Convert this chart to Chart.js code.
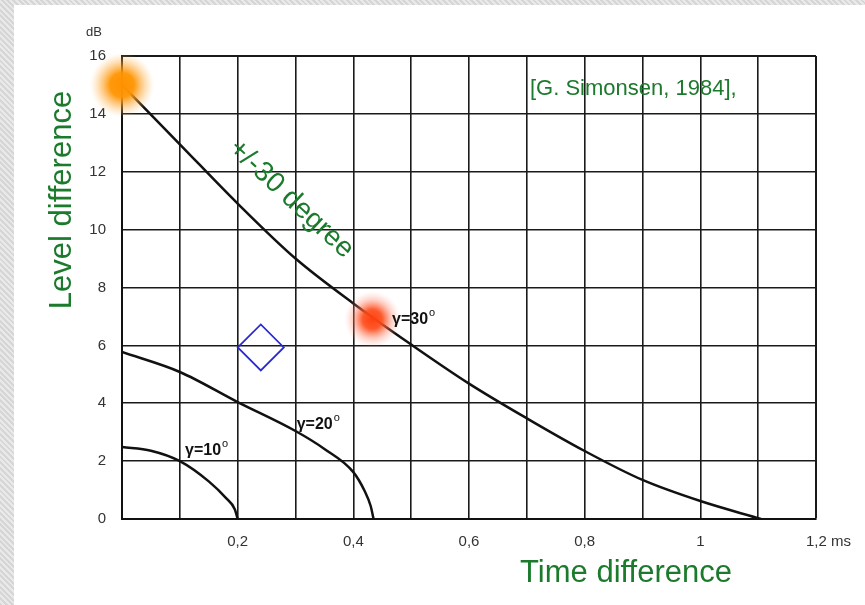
<!DOCTYPE html>
<html>
<head>
  <title>Level difference vs time difference</title>
  <style>
    html, body {
      margin: 0;
      padding: 0;
      overflow: hidden;
    }
    body {
      width: 865px;
      height: 605px;
      position: relative;
      background: repeating-linear-gradient(45deg, #d6d6d6 0 2px, #e9e9e9 2px 4px);
    }
    .panel {
      position: absolute;
      left: 14px;
      top: 5px;
      right: 0;
      bottom: 0;
      background: #fff;
    }
    #chart {
      position: absolute;
      left: 0;
      top: 0;
    }
  </style>
</head>
<body>
  <div class="panel"></div>
  <canvas id="chart" width="865" height="605"></canvas>

  <script src="https://cdn.jsdelivr.net/npm/chart.js"></script>
  <script>
    // curves (time in ms, level in dB)
    const t30 = [0, 0.1, 0.2, 0.3, 0.4, 0.5, 0.6, 0.7, 0.8, 0.9, 1.0, 1.105];
    const lev30 = [15.0, 12.95, 10.9, 9.0, 7.45, 6.03, 4.68, 3.48, 2.35, 1.35, 0.62, 0];

    const t20 = [0, 0.1, 0.2, 0.3, 0.35, 0.4, 0.42, 0.43, 0.435];
    const lev20 = [5.77, 5.08, 4.04, 3.04, 2.42, 1.62, 0.95, 0.45, 0];

    const t10 = [0, 0.05, 0.1, 0.15, 0.18, 0.195, 0.2];
    const lev10 = [2.49, 2.36, 2.0, 1.3, 0.72, 0.34, 0];

    // markers
    const orangeX = [0];
    const orangeY = [15];
    const redX = [0.433];
    const redY = [6.9];
    const diamondX = [0.24];
    const diamondY = [5.93];

    const FONT = "'Liberation Sans', Arial, sans-serif";
    const GREEN = '#1b7a2c';

    const pts = (xs, ys) => xs.map((v, i) => ({ x: v, y: ys[i] }));

    function glow(size, stops) {
      const c = document.createElement('canvas');
      c.width = c.height = size;
      const g = c.getContext('2d');
      const r = size / 2;
      const grd = g.createRadialGradient(r, r, 0, r, r, r);
      stops.forEach(s => grd.addColorStop(s[0], s[1]));
      g.fillStyle = grd;
      g.fillRect(0, 0, size, size);
      return c;
    }

    const orangeGlow = glow(64, [
      [0, 'rgba(255,145,0,1)'],
      [0.38, 'rgba(255,150,5,0.97)'],
      [0.7, 'rgba(255,170,60,0.45)'],
      [1, 'rgba(255,200,120,0)']
    ]);
    const redGlow = glow(56, [
      [0, 'rgba(255,65,15,1)'],
      [0.35, 'rgba(255,75,25,0.92)'],
      [0.7, 'rgba(255,120,90,0.35)'],
      [1, 'rgba(255,170,150,0)']
    ]);

    function curve(xs, ys) {
      return {
        data: pts(xs, ys),
        showLine: true,
        borderColor: '#111',
        borderWidth: 2.5,
        pointRadius: 0,
        cubicInterpolationMode: 'monotone'
      };
    }

    const notes = {
      id: 'notes',
      afterDatasetsDraw(chart) {
        const { ctx } = chart;
        const x = chart.scales.x, y = chart.scales.y;
        ctx.save();

        // unit on the y axis
        ctx.fillStyle = '#333';
        ctx.font = '13px ' + FONT;
        ctx.textAlign = 'center';
        ctx.textBaseline = 'middle';
        ctx.fillText('dB', 94, 32);

        // axis titles
        ctx.fillStyle = GREEN;
        ctx.font = '31px ' + FONT;
        ctx.fillText('Time difference', 626, 573);
        ctx.save();
        ctx.translate(62, 200);
        ctx.rotate(-Math.PI / 2);
        ctx.fillText('Level difference', 0, 0);
        ctx.restore();

        // citation
        ctx.font = '22px ' + FONT;
        ctx.textAlign = 'left';
        ctx.fillText('[G. Simonsen, 1984],', 530, 89);

        // label along the 30 degree curve
        ctx.save();
        ctx.translate(291, 199);
        ctx.rotate(43 * Math.PI / 180);
        ctx.font = '28px ' + FONT;
        ctx.textAlign = 'center';
        ctx.fillText('+/-30 degree', 0, 0);
        ctx.restore();

        // gamma labels
        ctx.fillStyle = '#111';
        ctx.textAlign = 'left';
        ctx.textBaseline = 'alphabetic';
        const gamma = (n, tx, ty) => {
          const px = x.getPixelForValue(tx), py = y.getPixelForValue(ty);
          ctx.font = 'bold 16px ' + FONT;
          const s = '\u03b3=' + n;
          ctx.fillText(s, px, py);
          const w = ctx.measureText(s).width;
          ctx.font = '11px ' + FONT;
          ctx.fillText('o', px + w + 1, py - 8);
        };
        gamma(30, 0.467, 6.75);
        gamma(20, 0.302, 3.1);
        gamma(10, 0.109, 2.2);

        ctx.restore();
      }
    };

    new Chart(document.getElementById('chart'), {
      type: 'scatter',
      data: {
        datasets: [
          {
            data: pts(orangeX, orangeY),
            pointStyle: orangeGlow,
            pointRadius: 30,
            clip: false
          },
          {
            data: pts(redX, redY),
            pointStyle: redGlow,
            pointRadius: 26,
            clip: false
          },
          {
            data: pts(diamondX, diamondY),
            pointStyle: 'rectRot',
            pointRadius: 23,
            borderColor: '#2a2ad0',
            borderWidth: 1.8,
            backgroundColor: 'rgba(0,0,0,0)'
          },
          curve(t30, lev30),
          curve(t20, lev20),
          curve(t10, lev10)
        ]
      },
      options: {
        responsive: false,
        animation: false,
        events: [],
        layout: { padding: { left: 82, right: 47, top: 56, bottom: 46 } },
        plugins: {
          legend: { display: false },
          tooltip: { enabled: false }
        },
        scales: {
          x: {
            type: 'linear',
            min: 0,
            max: 1.2,
            afterFit: s => { s.height = 40; },
            border: { display: true, color: '#111', width: 2 },
            grid: {
              color: '#1a1a1a',
              lineWidth: c => (Math.round(c.tick.value * 10) === 12 ? 2 : 1.6),
              drawTicks: false
            },
            ticks: {
              stepSize: 0.1,
              autoSkip: false,
              maxRotation: 0,
              padding: 14,
              color: '#333',
              font: { family: FONT, size: 15 },
              callback: v => {
                const n = Math.round(v * 10);
                if (n === 0 || n % 2) return '';
                if (n === 12) return '      1,2 ms';
                return String(n / 10).replace('.', ',');
              }
            }
          },
          y: {
            min: 0,
            max: 16,
            afterFit: s => { s.width = 40; },
            border: { display: true, color: '#111', width: 2 },
            grid: {
              color: '#1a1a1a',
              lineWidth: c => (c.tick.value === 16 ? 2 : 1.6),
              drawTicks: false
            },
            ticks: {
              stepSize: 2,
              padding: 16,
              color: '#333',
              font: { family: FONT, size: 15 }
            }
          }
        }
      },
      plugins: [notes]
    });
  </script>
</body>
</html>
